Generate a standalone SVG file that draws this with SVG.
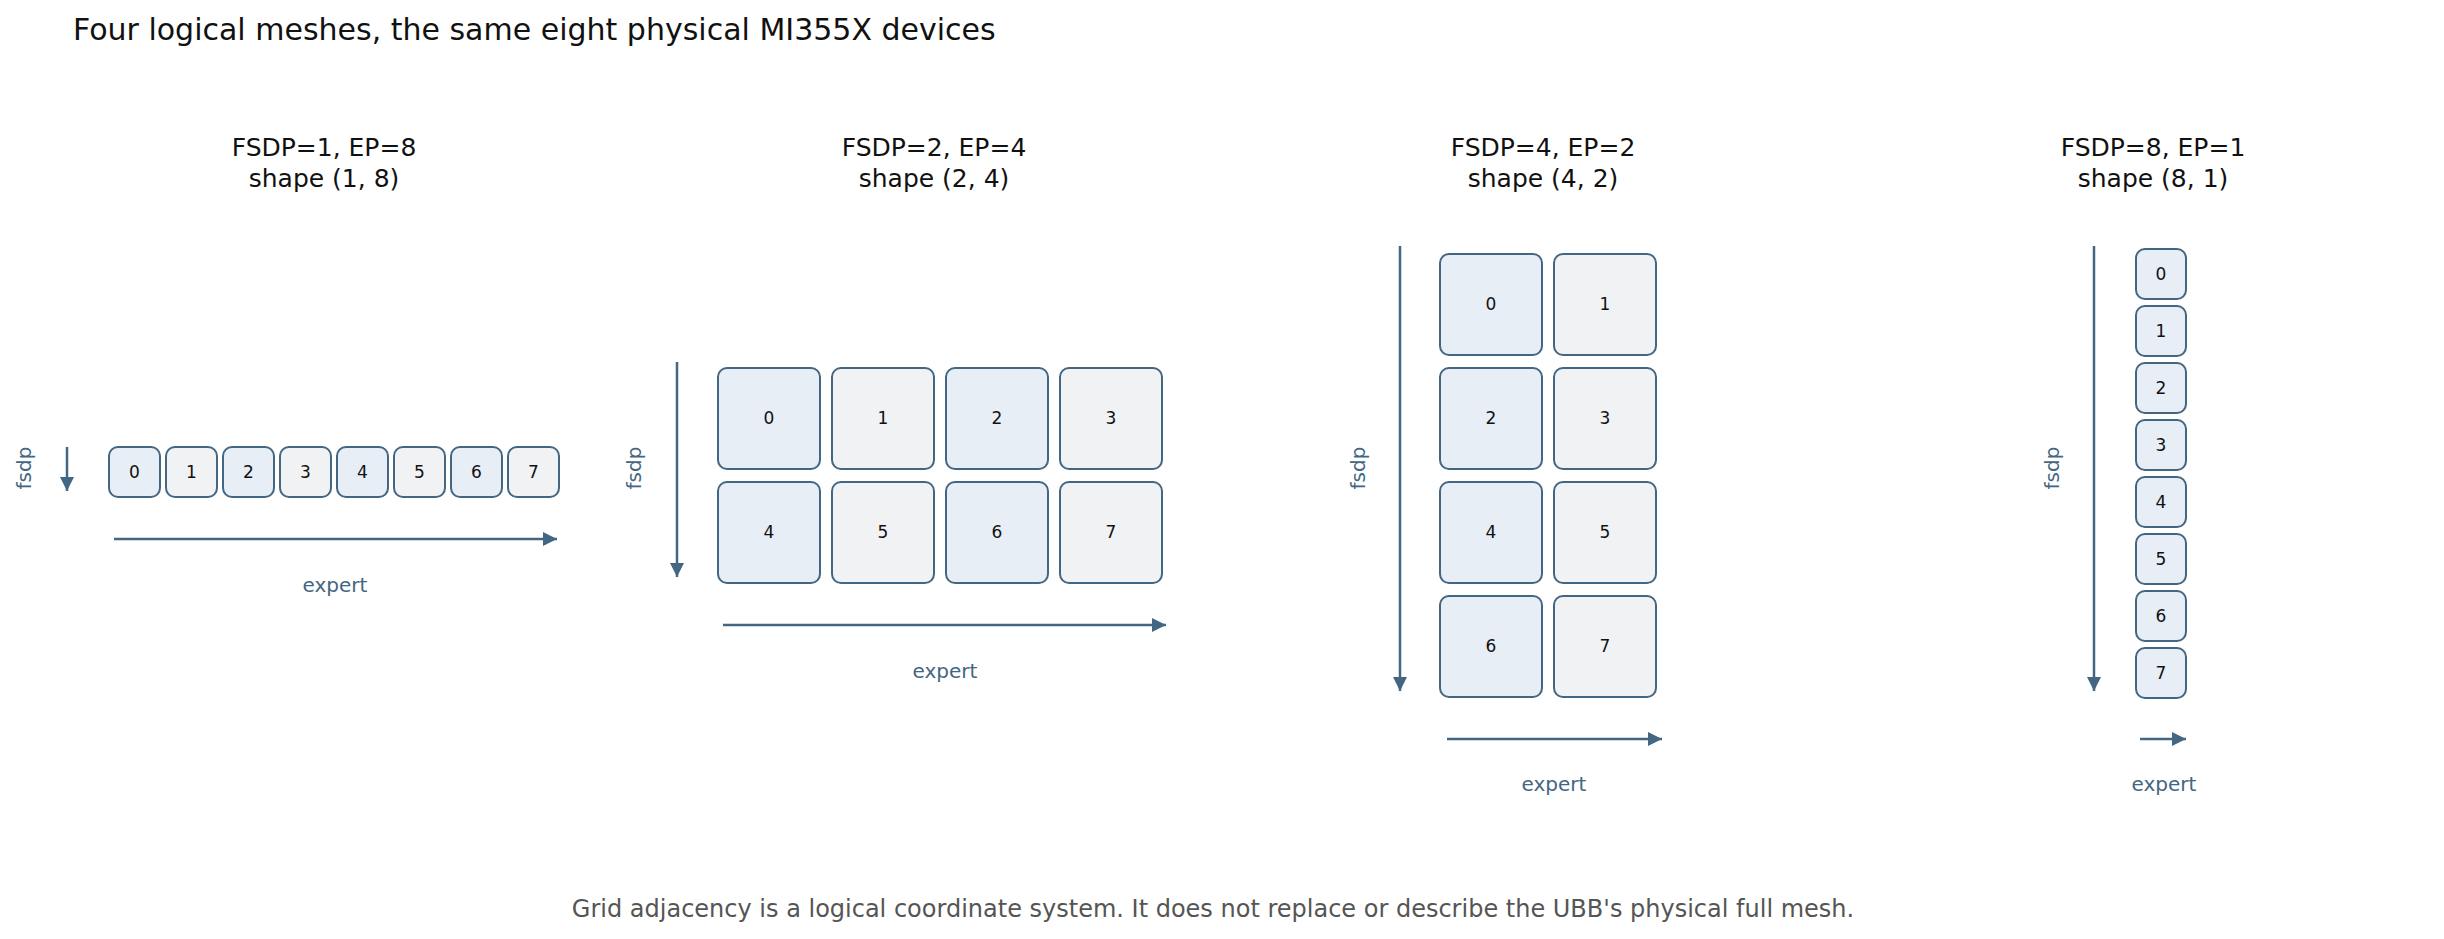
<svg xmlns="http://www.w3.org/2000/svg" width="2444" height="939" viewBox="0 0 2444 939">
<defs>
<marker id="ah" viewBox="0 0 10 10" refX="9" refY="5" markerWidth="6" markerHeight="6" markerUnits="userSpaceOnUse" orient="auto" style="overflow:visible"><path d="M0,0 L10,5 L0,10 z" fill="#436682"/></marker>
<style>
text{font-family:"DejaVu Sans",sans-serif}
.t{font-size:30px;fill:#111}
.h{font-size:25px;fill:#111;text-anchor:middle}
.c rect{stroke:#436682;stroke-width:2;rx:9}
.a{fill:#e8eef5}.g{fill:#f1f2f4}
.n{font-size:17px;fill:#111;text-anchor:middle;dominant-baseline:central}
.ax{font-size:20px;fill:#436682;text-anchor:middle}
.ar{stroke:#436682;stroke-width:2.5;fill:none;marker-end:url(#ah)}
.f{font-size:24px;fill:#555;text-anchor:middle}
</style>
<marker id="m" viewBox="0 0 12 12" refX="12" refY="6" markerWidth="14" markerHeight="14" markerUnits="userSpaceOnUse" orient="auto"><path d="M0,0 L12,6 L0,12 z" fill="#436682"/></marker>
</defs>
<text class="t" x="73" y="40">Four logical meshes, the same eight physical MI355X devices</text>
<g id="headers">
<text class="h" x="324" y="156">FSDP=1, EP=8</text><text class="h" x="324" y="187">shape (1, 8)</text>
<text class="h" x="934" y="156">FSDP=2, EP=4</text><text class="h" x="934" y="187">shape (2, 4)</text>
<text class="h" x="1543" y="156">FSDP=4, EP=2</text><text class="h" x="1543" y="187">shape (4, 2)</text>
<text class="h" x="2153" y="156">FSDP=8, EP=1</text><text class="h" x="2153" y="187">shape (8, 1)</text>
</g>
<g id="connectors" style="--x:0">
<path d="M67,447 V491" stroke="#436682" stroke-width="2.5" marker-end="url(#m)"/>
<path d="M114,539 H557" stroke="#436682" stroke-width="2.5" marker-end="url(#m)"/>
<path d="M677,362 V577" stroke="#436682" stroke-width="2.5" marker-end="url(#m)"/>
<path d="M723,625 H1166" stroke="#436682" stroke-width="2.5" marker-end="url(#m)"/>
<path d="M1400,246 V691" stroke="#436682" stroke-width="2.5" marker-end="url(#m)"/>
<path d="M1447,739 H1662" stroke="#436682" stroke-width="2.5" marker-end="url(#m)"/>
<path d="M2094,246 V691" stroke="#436682" stroke-width="2.5" marker-end="url(#m)"/>
<path d="M2140,739 H2186" stroke="#436682" stroke-width="2.5" marker-end="url(#m)"/>
</g>
<g id="axis-labels">
<text class="ax" transform="translate(31,468) rotate(-90)">fsdp</text>
<text class="ax" x="335" y="592">expert</text>
<text class="ax" transform="translate(641,468) rotate(-90)">fsdp</text>
<text class="ax" x="945" y="678">expert</text>
<text class="ax" transform="translate(1365,468) rotate(-90)">fsdp</text>
<text class="ax" x="1554" y="791">expert</text>
<text class="ax" transform="translate(2059,468) rotate(-90)">fsdp</text>
<text class="ax" x="2164" y="791">expert</text>
</g>
<g id="mesh1" class="c">
<g id="m1-0"><rect class="a" x="109" y="447" width="51" height="50"/><text class="n" x="134.5" y="472">0</text></g>
<g id="m1-1"><rect class="g" x="166" y="447" width="51" height="50"/><text class="n" x="191.5" y="472">1</text></g>
<g id="m1-2"><rect class="a" x="223" y="447" width="51" height="50"/><text class="n" x="248.5" y="472">2</text></g>
<g id="m1-3"><rect class="g" x="280" y="447" width="51" height="50"/><text class="n" x="305.5" y="472">3</text></g>
<g id="m1-4"><rect class="a" x="337" y="447" width="51" height="50"/><text class="n" x="362.5" y="472">4</text></g>
<g id="m1-5"><rect class="g" x="394" y="447" width="51" height="50"/><text class="n" x="419.5" y="472">5</text></g>
<g id="m1-6"><rect class="a" x="451" y="447" width="51" height="50"/><text class="n" x="476.5" y="472">6</text></g>
<g id="m1-7"><rect class="g" x="508" y="447" width="51" height="50"/><text class="n" x="533.5" y="472">7</text></g>
</g>
<g id="mesh2" class="c">
<g id="m2-0"><rect class="a" x="718" y="368" width="102" height="101"/><text class="n" x="769" y="418">0</text></g>
<g id="m2-1"><rect class="g" x="832" y="368" width="102" height="101"/><text class="n" x="883" y="418">1</text></g>
<g id="m2-2"><rect class="a" x="946" y="368" width="102" height="101"/><text class="n" x="997" y="418">2</text></g>
<g id="m2-3"><rect class="g" x="1060" y="368" width="102" height="101"/><text class="n" x="1111" y="418">3</text></g>
<g id="m2-4"><rect class="a" x="718" y="482" width="102" height="101"/><text class="n" x="769" y="532">4</text></g>
<g id="m2-5"><rect class="g" x="832" y="482" width="102" height="101"/><text class="n" x="883" y="532">5</text></g>
<g id="m2-6"><rect class="a" x="946" y="482" width="102" height="101"/><text class="n" x="997" y="532">6</text></g>
<g id="m2-7"><rect class="g" x="1060" y="482" width="102" height="101"/><text class="n" x="1111" y="532">7</text></g>
</g>
<g id="mesh3" class="c">
<g id="m3-0"><rect class="a" x="1440" y="254" width="102" height="101"/><text class="n" x="1491" y="304">0</text></g>
<g id="m3-1"><rect class="g" x="1554" y="254" width="102" height="101"/><text class="n" x="1605" y="304">1</text></g>
<g id="m3-2"><rect class="a" x="1440" y="368" width="102" height="101"/><text class="n" x="1491" y="418">2</text></g>
<g id="m3-3"><rect class="g" x="1554" y="368" width="102" height="101"/><text class="n" x="1605" y="418">3</text></g>
<g id="m3-4"><rect class="a" x="1440" y="482" width="102" height="101"/><text class="n" x="1491" y="532">4</text></g>
<g id="m3-5"><rect class="g" x="1554" y="482" width="102" height="101"/><text class="n" x="1605" y="532">5</text></g>
<g id="m3-6"><rect class="a" x="1440" y="596" width="102" height="101"/><text class="n" x="1491" y="646">6</text></g>
<g id="m3-7"><rect class="g" x="1554" y="596" width="102" height="101"/><text class="n" x="1605" y="646">7</text></g>
</g>
<g id="mesh4" class="c">
<g id="m4-0"><rect class="a" x="2136" y="249" width="50" height="50"/><text class="n" x="2161" y="274">0</text></g>
<g id="m4-1"><rect class="a" x="2136" y="306" width="50" height="50"/><text class="n" x="2161" y="331">1</text></g>
<g id="m4-2"><rect class="a" x="2136" y="363" width="50" height="50"/><text class="n" x="2161" y="388">2</text></g>
<g id="m4-3"><rect class="a" x="2136" y="420" width="50" height="50"/><text class="n" x="2161" y="445">3</text></g>
<g id="m4-4"><rect class="a" x="2136" y="477" width="50" height="50"/><text class="n" x="2161" y="502">4</text></g>
<g id="m4-5"><rect class="a" x="2136" y="534" width="50" height="50"/><text class="n" x="2161" y="559">5</text></g>
<g id="m4-6"><rect class="a" x="2136" y="591" width="50" height="50"/><text class="n" x="2161" y="616">6</text></g>
<g id="m4-7"><rect class="a" x="2136" y="648" width="50" height="50"/><text class="n" x="2161" y="673">7</text></g>
</g>
<text class="f" x="1213" y="917">Grid adjacency is a logical coordinate system. It does not replace or describe the UBB's physical full mesh.</text>
</svg>
